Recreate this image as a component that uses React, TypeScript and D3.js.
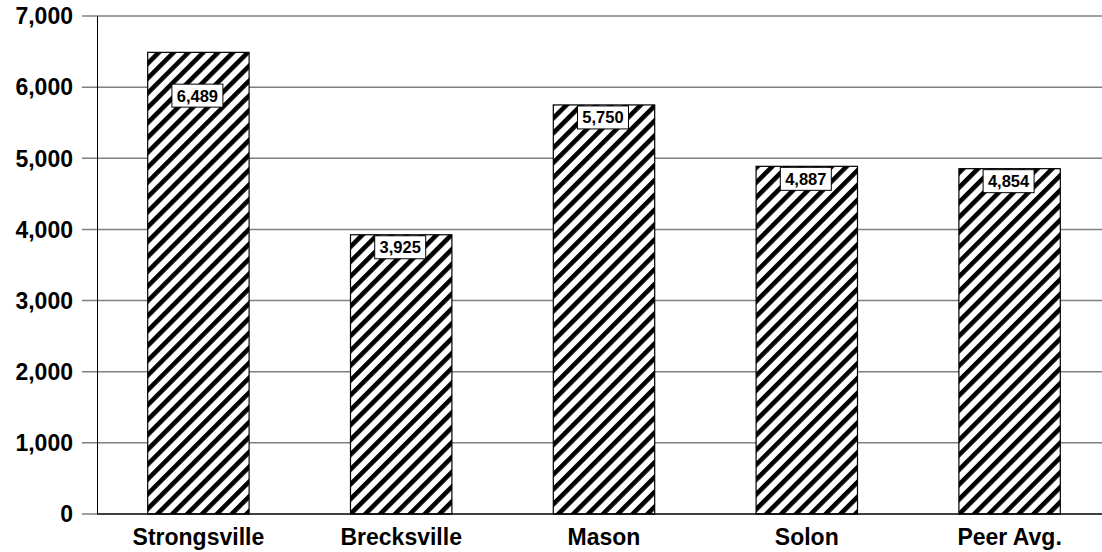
import React from "react";
import * as d3 from "d3";

const categories = ["Strongsville", "Brecksville", "Mason", "Solon", "Peer Avg."];
const values = [6489, 3925, 5750, 4887, 4854];
const yTicks = [0, 1000, 2000, 3000, 4000, 5000, 6000, 7000];
const labelCap = 6000;

const W = 1102;
const H = 552;
const margin = { left: 97, right: -9, top: 16, bottom: 38 };

export default function App() {
  const x = d3
    .scaleBand<string>()
    .domain(categories)
    .range([margin.left, W - margin.right])
    .paddingInner(0.5)
    .paddingOuter(0.25);
  const y = d3
    .scaleLinear()
    .domain([0, 7000])
    .range([H - margin.bottom, margin.top]);
  const fmt = d3.format(",");
  const font = "'Liberation Sans', Arial, sans-serif";
  const P = 10.5;

  return (
    <svg
      width={W}
      height={H}
      style={{ position: "absolute", left: 0, top: 0, background: "#fff" }}
    >
      <defs>
        <pattern
          id="hatch"
          patternUnits="userSpaceOnUse"
          width={P}
          height={P}
          patternTransform="rotate(45)"
        >
          <rect width={P} height={P} fill="#fff" />
          <rect x={0} y={0} width={4.6} height={P} fill="#000" />
        </pattern>
      </defs>
      {yTicks.map((t) => (
        <g key={t}>
          {t > 0 && (
            <line
              x1={82}
              x2={W}
              y1={y(t)}
              y2={y(t)}
              stroke="#808080"
              strokeWidth={1.5}
            />
          )}
          {t === 0 && (
            <line x1={82} x2={97} y1={y(t)} y2={y(t)} stroke="#808080" strokeWidth={1.5} />
          )}
          <text
            x={73}
            y={y(t)}
            dy="0.36em"
            textAnchor="end"
            fontFamily={font}
            fontWeight="bold"
            fontSize={23}
            fill="#000"
          >
            {fmt(t)}
          </text>
        </g>
      ))}
      <line x1={97.5} x2={97.5} y1={y(7000)} y2={y(0)} stroke="#000" strokeWidth={1} />
      {categories.map((c, i) => (
        <rect
          key={c}
          x={x(c)!}
          y={y(values[i])}
          width={x.bandwidth()}
          height={y(0) - y(values[i])}
          fill="url(#hatch)"
          stroke="#000"
          strokeWidth={1.2}
        />
      ))}
      <line x1={97} x2={W} y1={y(0)} y2={y(0)} stroke="#000" strokeWidth={1.5} />
      {categories.map((c, i) => {
        const cx = x(c)! + x.bandwidth() / 2 - 1;
        const top = y(Math.min(values[i], labelCap)) + (values[i] > labelCap ? -3 : 1);
        const bw = 51;
        const bh = 23;
        return (
          <g key={c + "lbl"}>
            <rect
              x={cx - bw / 2}
              y={top}
              width={bw}
              height={bh}
              fill="#fff"
              stroke="#000"
              strokeWidth={1}
            />
            <text
              x={cx}
              y={top + bh / 2}
              dy="0.36em"
              textAnchor="middle"
              fontFamily={font}
              fontWeight="bold"
              fontSize={16.5}
              fill="#000"
            >
              {fmt(values[i])}
            </text>
          </g>
        );
      })}
      {categories.map((c) => (
        <text
          key={c + "cat"}
          x={x(c)! + x.bandwidth() / 2}
          y={545}
          textAnchor="middle"
          fontFamily={font}
          fontWeight="bold"
          fontSize={23}
          fill="#000"
        >
          {c}
        </text>
      ))}
    </svg>
  );
}
